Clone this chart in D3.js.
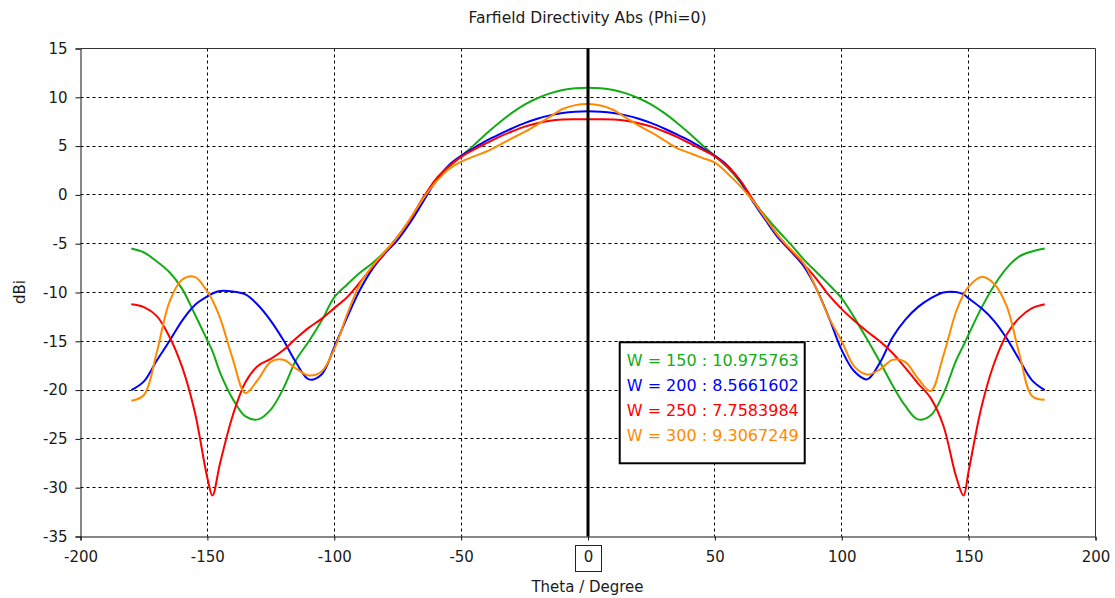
<!DOCTYPE html>
<html>
<head>
<meta charset="utf-8">
<script src="https://cdn.jsdelivr.net/npm/d3@7"></script>
<style>
  body { margin: 0; background: #fff; }
  text { font-family: "DejaVu Sans", sans-serif; fill: #1a1a1a; }
</style>
</head>
<body>
<div id="chart"></div>
<script>
// Theta samples (degrees)
const theta = [-180,-175,-170,-165,-160,-155,-150,-148,-145,-140,-135,-130,-125,-120,-115,-110,-105,-100,-95,-90,-85,-80,-75,-70,-65,-60,-55,-50,-45,-40,-35,-30,-25,-20,-15,-10,-5,
  0,
  5,10,15,20,25,30,35,40,45,50,55,60,65,70,75,80,85,90,95,100,105,110,115,120,125,130,135,140,145,148,150,155,160,165,170,175,180];

// Directivity (dBi) per width W
const w150 = [-5.5,-5.9,-6.8,-7.9,-9.6,-12.2,-14.9,-16.0,-18.2,-20.9,-22.7,-23.0,-22.0,-19.8,-16.9,-15.0,-12.9,-10.5,-9.2,-8.0,-7.0,-5.8,-4.3,-2.5,-0.4,1.4,2.8,3.95,5.1,6.3,7.4,8.4,9.25,9.9,10.4,10.75,10.93,
  10.976,
  10.93,10.75,10.4,9.9,9.25,8.4,7.4,6.3,5.1,4.0,2.8,1.3,-0.6,-2.2,-3.7,-5.1,-6.6,-7.9,-9.2,-10.6,-12.6,-14.8,-17.1,-19.5,-21.6,-23.0,-22.6,-20.4,-17.0,-15.4,-14.3,-11.6,-9.3,-7.5,-6.3,-5.8,-5.5];
const w200 = [-20.0,-19.1,-17.0,-15.0,-12.9,-11.3,-10.4,-10.1,-9.85,-9.9,-10.2,-11.3,-12.9,-14.9,-17.2,-18.9,-18.4,-15.6,-12.6,-9.8,-7.6,-6.0,-4.6,-2.8,-0.7,1.4,3.0,4.0,4.8,5.55,6.2,6.8,7.35,7.8,8.15,8.4,8.53,
  8.566,
  8.53,8.4,8.15,7.8,7.35,6.8,6.2,5.55,4.8,4.0,3.0,1.4,-0.7,-2.6,-4.4,-5.8,-7.3,-9.6,-12.6,-15.9,-18.1,-18.9,-17.2,-14.6,-12.8,-11.5,-10.6,-10.0,-9.95,-10.2,-10.6,-11.6,-12.9,-14.7,-16.9,-19.0,-20.0];
const w250 = [-11.2,-11.5,-12.4,-14.5,-17.6,-22.2,-29.0,-30.8,-27.5,-22.6,-19.2,-17.5,-16.8,-15.9,-14.7,-13.6,-12.7,-11.6,-10.5,-9.0,-7.4,-5.9,-4.3,-2.5,-0.3,1.6,2.9,3.9,4.65,5.3,5.95,6.5,7.0,7.35,7.6,7.72,7.75,
  7.758,
  7.75,7.72,7.6,7.35,7.0,6.5,5.95,5.3,4.65,3.95,2.9,1.5,-0.5,-2.4,-4.2,-5.7,-7.1,-8.6,-10.3,-11.7,-12.9,-14.0,-15.0,-16.2,-17.7,-19.3,-20.8,-23.6,-28.8,-30.8,-28.3,-21.8,-17.3,-14.3,-12.6,-11.6,-11.2];
const w300 = [-21.1,-20.5,-16.2,-11.0,-8.7,-8.4,-9.9,-10.8,-12.6,-16.8,-20.3,-18.9,-17.1,-16.9,-17.8,-18.5,-18.1,-15.8,-12.3,-9.2,-7.3,-5.8,-4.3,-2.4,-0.4,1.3,2.6,3.4,3.95,4.45,5.1,5.8,6.45,7.2,8.0,8.8,9.2,
  9.307,
  9.15,8.7,7.9,7.1,6.4,5.6,4.8,4.3,3.8,3.3,2.2,0.9,-0.6,-2.4,-4.2,-5.6,-7.0,-9.6,-12.6,-15.0,-17.6,-18.4,-17.9,-16.9,-17.1,-18.8,-20.1,-16.5,-12.0,-10.2,-9.4,-8.4,-9.1,-11.4,-16.3,-20.6,-21.0];

const legendLabels = ["W = 150 : 10.975763", "W = 200 : 8.5661602", "W = 250 : 7.7583984", "W = 300 : 9.3067249"];
const lineColors = ["#14ac14", "#0000ff", "#ff0000", "#ff8a00"];

const xTicks = [-200, -150, -100, -50, 0, 50, 100, 150, 200];
const yTicks = [15, 10, 5, 0, -5, -10, -15, -20, -25, -30, -35];

const width = 1115, height = 598;
const margin = {top: 48, right: 20, bottom: 62, left: 80};
const w = width - margin.left - margin.right;
const h = height - margin.top - margin.bottom;

const svg = d3.select("#chart").append("svg")
    .attr("width", width)
    .attr("height", height);

const g = svg.append("g")
    .attr("transform", `translate(${margin.left + 0.5},${margin.top + 0.5})`);

const x = d3.scaleLinear().domain([-200, 200]).range([0, w]);
const y = d3.scaleLinear().domain([-35, 15]).range([h, 0]);

// grid (dotted)
g.append("g").selectAll("line")
    .data(yTicks.filter(d => d !== 15 && d !== -35))
    .join("line")
    .attr("x1", 0).attr("x2", w)
    .attr("y1", d => Math.round(y(d))).attr("y2", d => Math.round(y(d)))
    .attr("stroke", "#000").attr("stroke-dasharray", "3,3");
g.append("g").selectAll("line")
    .data(xTicks.filter(d => d !== -200 && d !== 200 && d !== 0))
    .join("line")
    .attr("x1", d => Math.round(x(d))).attr("x2", d => Math.round(x(d)))
    .attr("y1", 0).attr("y2", h)
    .attr("stroke", "#000").attr("stroke-dasharray", "3,3");

// frame
g.append("line").attr("x1", 0).attr("x2", w).attr("y1", 0).attr("y2", 0).attr("stroke", "#333");
g.append("line").attr("x1", w).attr("x2", w).attr("y1", 0).attr("y2", h).attr("stroke", "#333");

// axes (plain hyphen minus, like the original)
const fmt = d => String(d);
const xAxis = g.append("g")
    .attr("transform", `translate(0,${h})`)
    .call(d3.axisBottom(x).tickValues(xTicks).tickSize(4).tickPadding(11).tickFormat(fmt));
const yAxis = g.append("g")
    .call(d3.axisLeft(y).tickValues(yTicks).tickSize(5).tickPadding(8).tickFormat(fmt));

[xAxis, yAxis].forEach(a => {
    a.select(".domain").attr("stroke", "#111");
    a.selectAll(".tick line").attr("stroke", "#111");
    a.selectAll("text").style("font-size", "15px").attr("fill", "#1a1a1a");
});

// box around the 0 tick label
xAxis.selectAll(".tick").filter(d => d === 0)
    .insert("rect", "text")
    .attr("x", -13).attr("y", 9).attr("width", 26).attr("height", 26)
    .attr("fill", "#fff").attr("stroke", "#222");

// the curves
const series = [w150, w200, w250, w300];
const line = d3.line()
    .x((d, i) => x(theta[i]))
    .y(d => y(d))
    .curve(d3.curveCatmullRom.alpha(0.5));

series.forEach((vals, k) => {
    g.append("path")
        .datum(vals)
        .attr("fill", "none")
        .attr("stroke", lineColors[k])
        .attr("stroke-width", 2)
        .attr("stroke-linejoin", "round")
        .attr("d", line);
});

// theta = 0 marker
g.append("line")
    .attr("x1", x(0)).attr("x2", x(0))
    .attr("y1", 0).attr("y2", h)
    .attr("stroke", "#000").attr("stroke-width", 3);

// legend
const lg = g.append("g").attr("transform", `translate(${x(12.5)},${y(-15.1)})`);
lg.append("rect")
    .attr("width", 185).attr("height", 121)
    .attr("fill", "#fff").attr("stroke", "#000").attr("stroke-width", 2);
lg.selectAll("text")
    .data(legendLabels)
    .join("text")
    .attr("x", 7)
    .attr("y", (d, i) => 24 + i * 25)
    .style("font-size", "16px")
    .style("fill", (d, i) => lineColors[i])
    .text(d => d);

// titles
svg.append("text")
    .attr("x", margin.left + x(0)).attr("y", 23)
    .attr("text-anchor", "middle")
    .style("font-size", "15.5px")
    .text("Farfield Directivity Abs (Phi=0)");

svg.append("text")
    .attr("x", margin.left + x(0)).attr("y", 592)
    .attr("text-anchor", "middle")
    .style("font-size", "15px")
    .text("Theta / Degree");

svg.append("text")
    .attr("transform", `translate(25,${margin.top + y(-10)}) rotate(-90)`)
    .attr("text-anchor", "middle")
    .style("font-size", "15px")
    .text("dBi");
</script>
</body>
</html>
